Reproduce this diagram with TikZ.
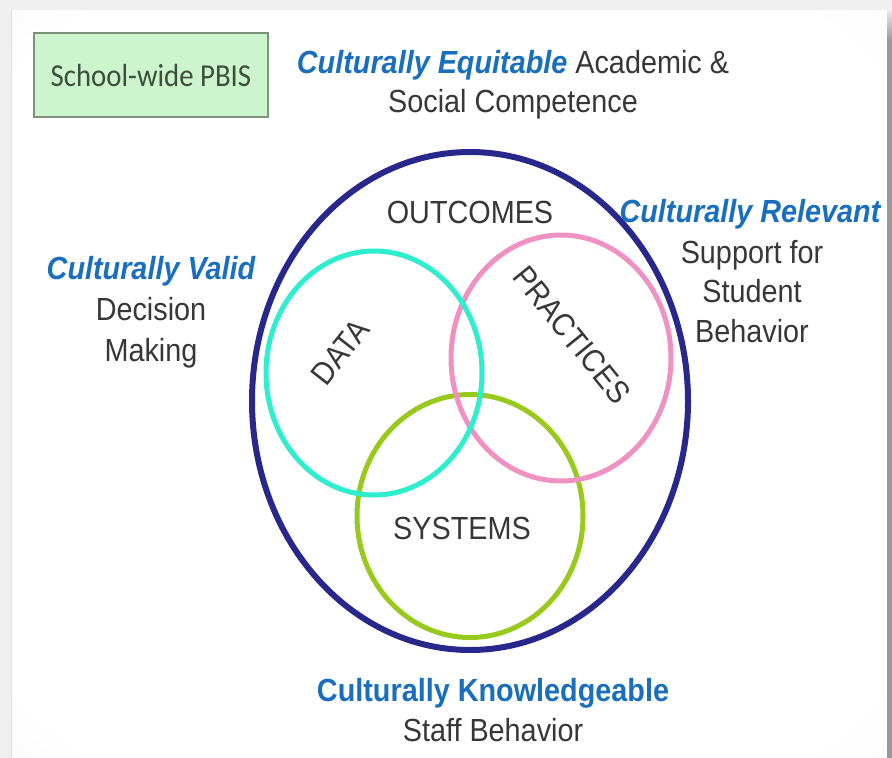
\documentclass[tikz,border=0pt]{standalone}
\usepackage{fontspec}
\setmainfont{Liberation Sans}[FakeStretch=0.9]
\newfontfamily\boxfont{Carlito}[FakeStretch=0.9]
\usepackage{tikz}
\usetikzlibrary{positioning, shapes.geometric}
\definecolor{ringnavy}{RGB}{40,40,140}
\definecolor{ringaqua}{RGB}{45,238,205}
\definecolor{ringpink}{RGB}{240,145,195}
\definecolor{ringlime}{RGB}{152,202,28}
\definecolor{accent}{RGB}{25,110,190}
\definecolor{ink}{RGB}{55,55,55}
\definecolor{boxfill}{RGB}{205,245,205}
\definecolor{boxline}{RGB}{125,145,125}
\definecolor{boxink}{RGB}{60,78,60}
\pgfdeclareradialshading{vignette}{\pgfpoint{0bp}{0bp}}{color(0bp)=(white); color(32bp)=(white); color(72bp)=(black!15)}
\tikzstyle{ring} = [draw, ellipse, inner sep=0pt, line width=5pt]
\tikzstyle{body} = [font=\fontsize{32}{40}\selectfont, text=ink, inner sep=0pt, anchor=base]
\tikzstyle{lead} = [body, text=accent, font=\fontsize{32}{40}\selectfont\bfseries\itshape]
\tikzstyle{pbisbox} = [draw=boxline, fill=boxfill, line width=1.5pt, minimum width=234pt, minimum height=84pt, text=boxink, font=\boxfont\fontsize{32}{40}\selectfont]

\begin{document}
\begin{tikzpicture}[x=1pt, y=-1pt]
    \useasboundingbox (0,0) rectangle (892,758);
    % Slide backdrop.
    \fill [black!6] (0,0) rectangle (892,758);
    \shade [shading=vignette] (12,10) rectangle (887,758);
    \draw [black!12, line width=1.5pt] (11.5,10) -- (11.5,758);
    \fill [black!40] (887,40) rectangle (892,758);
    \shade [top color=black!8, bottom color=black!40] (887,10) rectangle (892,40);

    \node (pbis) [pbisbox] at (151,75) {School-wide PBIS};

    % Rings.
    \node (outcomes ring) [ring, draw=ringnavy, line width=6pt, minimum width=436pt, minimum height=498pt] at (470,401) {};
    \node (systems ring) [ring, draw=ringlime, minimum width=226pt, minimum height=243pt] at (470,516) {};
    \node (practices ring) [ring, draw=ringpink, minimum width=220pt, minimum height=246pt] at (561,358) {};
    \node (data ring) [ring, draw=ringaqua, minimum width=216pt, minimum height=244pt] at (374,373) {};

    \node (outcomes) [body] at (470,223) {OUTCOMES};
    \node (data) [body, anchor=center, rotate=52] at (340,352) {DATA};
    \node (practices) [body, anchor=center, rotate=-51] at (572,335) {PRACTICES};
    \node (systems) [body] at (462,539) {SYSTEMS};

    % Captions round the rings.
    \node (equitable) [body] at (513,73) {{\color{accent}\bfseries\itshape Culturally Equitable} Academic \&};
    \node (competence) [body, below=39pt of equitable.base, anchor=base] {Social Competence};

    \node (relevant) [lead] at (750,222) {Culturally Relevant};
    \node (support) [body, below=41pt of relevant.base, anchor=base, xshift=2pt] {Support for};
    \node (student) [body, below=39pt of support.base, anchor=base] {Student};
    \node (behavior) [body, below=40pt of student.base, anchor=base] {Behavior};

    \node (valid) [lead] at (151,279) {Culturally Valid};
    \node (decision) [body, below=41pt of valid.base, anchor=base] {Decision};
    \node (making) [body, below=41pt of decision.base, anchor=base] {Making};

    \node (knowledgeable) [lead, font=\fontsize{32}{40}\selectfont\bfseries] at (493,701) {Culturally Knowledgeable};
    \node (staff) [body, below=40pt of knowledgeable.base, anchor=base] {Staff Behavior};
\end{tikzpicture}
\end{document}
